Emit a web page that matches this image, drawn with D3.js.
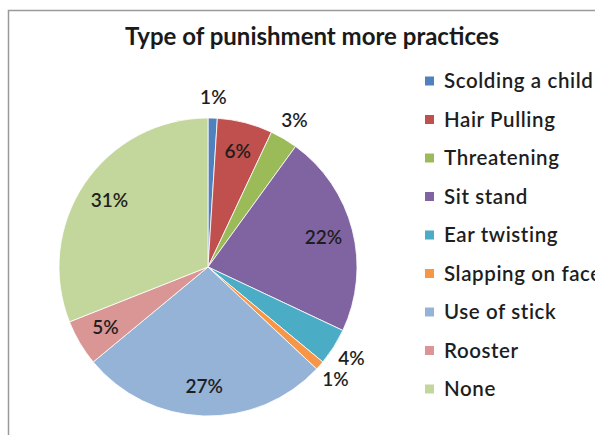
<!DOCTYPE html>
<html>
<head>
<meta charset="utf-8">
<script src="https://cdn.jsdelivr.net/npm/d3@7"></script>
<style>
  html, body { margin: 0; padding: 0; background: #fff; }
  svg { display: block; }
</style>
</head>
<body>
<svg id="chart" width="595" height="435"></svg>
<script>
// Punishment types and their share (%)
const categories = ["Scolding a child", "Hair Pulling", "Threatening", "Sit  stand", "Ear twisting",
                    "Slapping on face", "Use of stick", "Rooster", "None"];
const shares = [1, 6, 3, 22, 4, 1, 27, 5, 31];
const sliceColors = ["#4F81BD", "#C0504D", "#9BBB59", "#8064A2", "#4BACC6",
                     "#F79646", "#95B3D7", "#D99694", "#C3D69B"];
const titleText = "Type of punishment more practices";

const W = 595, H = 435;
const svg = d3.select("#chart");
const font = "Lato, 'Open Sans', sans-serif";

// chart frame (extends past the right and bottom edges)
svg.append("rect")
  .attr("x", 8.5).attr("y", 10.5)
  .attr("width", 700).attr("height", 600)
  .attr("fill", "#fff")
  .attr("stroke", "#9a9a9a").attr("stroke-width", 1.5);

// title
svg.append("text")
  .attr("x", 312).attr("y", 45)
  .attr("text-anchor", "middle")
  .attr("font-family", font).attr("font-weight", 700)
  .attr("font-size", 24).attr("fill", "#1a1a1a")
  .text(titleText);

// pie
const cx = 208, cy = 267, R = 149;
const data = categories.map((c, i) => ({ name: c, value: shares[i], color: sliceColors[i] }));
const pie = d3.pie().value(d => d.value).sort(null);
const arcs = pie(data);
const arc = d3.arc().innerRadius(0).outerRadius(R);
const g = svg.append("g").attr("transform", `translate(${cx},${cy})`);

g.selectAll("path.slice").data(arcs).join("path")
  .attr("class", "slice")
  .attr("d", arc)
  .attr("fill", d => d.data.color)
  .attr("stroke", "#fff").attr("stroke-width", 0.8);

// value labels: small slices get their label outside the pie
const inner = d3.arc().innerRadius(R * 0.8).outerRadius(R * 0.8);
const outer = d3.arc().innerRadius(R + 21).outerRadius(R + 21);
g.selectAll("text.val").data(arcs).join("text")
  .attr("class", "val")
  .attr("transform", d => `translate(${(d.data.value <= 4 ? outer : inner).centroid(d)})`)
  .attr("text-anchor", "middle")
  .attr("dy", "0.35em")
  .attr("font-family", font).attr("font-weight", 600).attr("font-size", 19)
  .attr("fill", "#1e1e1e")
  .text(d => d.data.value + "%");

// legend
const legendY = d3.scalePoint().domain(categories).range([81, 389]);
const lg = svg.append("g");
const rows = lg.selectAll("g").data(data).join("g")
  .attr("transform", d => `translate(425,${legendY(d.name)})`);
rows.append("rect")
  .attr("x", 0).attr("y", -4.5).attr("width", 9).attr("height", 9)
  .attr("fill", d => d.color);
rows.append("text")
  .attr("x", 19).attr("dy", "0.35em")
  .attr("font-family", font).attr("font-weight", 600).attr("font-size", 20.5)
  .attr("letter-spacing", 0.6)
  .attr("fill", "#1e1e1e")
  .text(d => d.name);
</script>
</body>
</html>
